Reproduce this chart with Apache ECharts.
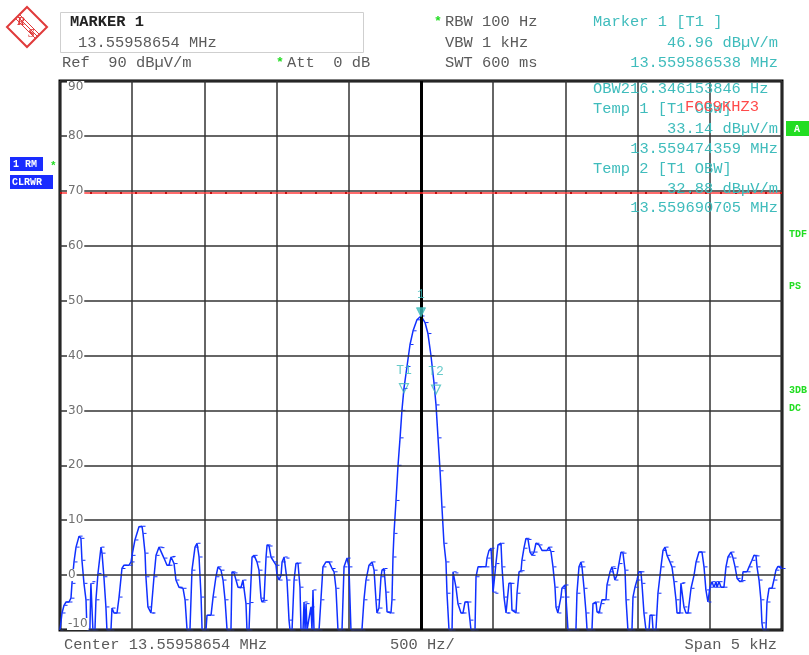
<!DOCTYPE html>
<html><head><meta charset="utf-8">
<script src="https://cdn.jsdelivr.net/npm/echarts@6/dist/echarts.min.js"></script>
<style>html,body{margin:0;padding:0;background:#fff}#c{width:809px;height:655px}</style>
</head><body><div id="c"></div>
<script>
// Trace: [frequency offset from centre in Hz, level in dBµV/m]
const traceHzDb = [[-2500,-10],[-2486,-6.9],[-2472,-5.5],[-2458,-4.9],[-2438,-4.9],[-2424,-4.2],[-2417,-1.5],[-2403,2.4],[-2389,5.1],[-2368,7.1],[-2355,6.7],[-2348,2.7],[-2334,-1.5],[-2320,-4.5],[-2313,-10],[-2293,-10],[-2286,-1.5],[-2279,-1.2],[-2272,-10],[-2258,-10],[-2251,-4.5],[-2237,0.3],[-2216,5.1],[-2209,4],[-2196,-0.3],[-2182,-5.8],[-2175,-10],[-2147,-10],[-2140,-6],[-2126,-6.9],[-2105,-6.9],[-2091,-4],[-2071,1.2],[-2057,1.8],[-2022,1.8],[-2008,2.4],[-2001,3.6],[-1981,6.4],[-1953,8.8],[-1932,8.9],[-1925,7.6],[-1911,4],[-1905,-0.3],[-1891,-5.8],[-1870,-6.9],[-1863,-6.9],[-1849,-0.3],[-1835,3.6],[-1814,5.1],[-1801,5.0],[-1780,3.1],[-1759,1.8],[-1745,1.8],[-1731,3.3],[-1724,3.4],[-1710,2.1],[-1697,-0.9],[-1676,-2.2],[-1648,-2.4],[-1634,-4.5],[-1620,-10],[-1600,-10],[-1586,0.9],[-1565,5.1],[-1551,5.8],[-1537,3.3],[-1523,-4],[-1516,-10],[-1489,-10],[-1482,-7.3],[-1454,-7.3],[-1440,-4],[-1420,-0.3],[-1406,1.5],[-1385,0.9],[-1371,-0.9],[-1357,-4.5],[-1343,-10],[-1316,-10],[-1309,0.6],[-1295,0.4],[-1281,-0.9],[-1267,-2.2],[-1247,-2.3],[-1233,-0.9],[-1212,-5.2],[-1205,-10],[-1191,-10],[-1184,-5],[-1170,3.3],[-1156,3.6],[-1136,2.4],[-1122,0.9],[-1108,-4.2],[-1101,-4.9],[-1087,-4.6],[-1073,3.3],[-1066,5.5],[-1052,5.3],[-1039,3.3],[-1018,2.4],[-1004,1.8],[-997,0],[-983,-0.9],[-969,0],[-962,2.4],[-948,3.3],[-935,3.1],[-928,-0.9],[-914,-8.2],[-907,-10],[-893,-10],[-879,-0.9],[-866,2.1],[-852,2.2],[-838,-2.2],[-831,-10],[-817,-10],[-810,-4.9],[-803,-10],[-796,-5.2],[-789,-10],[-776,-10],[-762,-5.8],[-755,-10],[-748,-2.7],[-741,-10],[-706,-10],[-693,-4.5],[-679,1.5],[-658,2.4],[-637,2.4],[-616,1.2],[-602,0.6],[-589,-2.4],[-575,-10],[-547,-10],[-533,1.5],[-512,3.1],[-499,1.5],[-485,-10],[-409,-10],[-395,-4.5],[-381,-0.9],[-360,1.8],[-339,2.4],[-325,0.9],[-312,-4.5],[-305,-6.9],[-291,-6.0],[-277,-0.3],[-270,0.9],[-256,1.2],[-243,-3.1],[-235,-6.7],[-208,-6.9],[-201,-4.5],[-194,3.3],[-187,7.6],[-173,13.6],[-159,20],[-145,25],[-132,30],[-118,34],[-97,38],[-76,42],[-55,44.5],[-28,46.5],[0,47.2],[28,46],[48,44],[69,40],[90,35],[104,31],[118,25],[132,19],[145,12.4],[159,5.8],[173,2.4],[180,-3.3],[194,-10],[215,-10],[222,0.6],[235,0.4],[242,-2.2],[256,-5.2],[277,-6.9],[291,-6.9],[305,-4.9],[325,-4.9],[339,-8.2],[346,-10],[374,-10],[381,-0.3],[395,1.5],[450,1.5],[457,3.1],[471,4.5],[485,4.9],[492,1.5],[499,-3.1],[512,-3.3],[519,2.1],[533,5.5],[554,5.8],[561,1.5],[575,-4],[589,-6.9],[596,-6.9],[609,-1.5],[623,-1.5],[630,-6.4],[658,-6.9],[665,-3.3],[679,0.6],[693,0.8],[699,2.7],[713,4.9],[727,6.7],[741,6.5],[755,4.2],[769,3.6],[783,4.2],[796,5.8],[817,5.5],[838,4.5],[873,4.5],[886,5.1],[900,4.3],[914,1.5],[928,-2.2],[935,-5.8],[948,-6.9],[969,-4],[976,-2.4],[997,-1.8],[1004,-4],[1018,-10],[1073,-10],[1080,-3.3],[1094,1.5],[1108,2.4],[1115,1.5],[1129,-2.4],[1143,-6.9],[1150,-10],[1184,-10],[1191,-5.2],[1212,-4.9],[1219,-6.7],[1233,-6.9],[1247,-5.2],[1253,-4.5],[1281,-4.5],[1288,-1.8],[1309,0.6],[1323,1.5],[1329,1.2],[1343,-0.9],[1357,0],[1371,2.1],[1385,4.2],[1399,4.0],[1413,0.9],[1420,-4.5],[1433,-10],[1461,-10],[1468,-4],[1482,-2.2],[1496,-0.9],[1509,0.6],[1523,0.6],[1530,-1.5],[1544,-6.9],[1558,-10],[1579,-10],[1586,-7.3],[1600,-7.3],[1607,-10],[1627,-10],[1641,-3.3],[1662,1.5],[1676,4.5],[1690,5.1],[1704,3.6],[1724,2.4],[1738,1.5],[1752,-1.2],[1766,-4.5],[1773,-6.9],[1793,-6.9],[1800,-1.5],[1807,-1.4],[1821,-5.8],[1835,-6.9],[1849,-6.9],[1870,-2.4],[1891,0],[1905,2.4],[1925,4.2],[1946,4.2],[1960,1.5],[1973,-2.7],[1987,-4.9],[2001,-2.2],[2015,-1.2],[2029,-2.2],[2043,-1.2],[2050,-2.2],[2064,-1.2],[2078,-2.2],[2098,-2.2],[2112,1.5],[2126,3.3],[2147,4.2],[2161,3.1],[2175,1.5],[2189,-0.6],[2209,-1.2],[2223,-1.0],[2230,0.6],[2258,0.6],[2272,1.5],[2292,2.7],[2306,3.6],[2320,3.5],[2327,1.5],[2341,-0.9],[2354,-4.5],[2361,-8.7],[2368,-10],[2389,-10],[2396,-4.9],[2410,-2.4],[2431,-2.4],[2444,-0.9],[2458,0.9],[2472,1.6],[2500,1.2]];

const markerNames = ['1', 'T1', 'T2'];
const markerFreqHz = [0, -118, 104];
const markerLevel = [46.96, 33.14, 32.88];
const limitLevel = 69.6;
const limitName = 'FCC9KHZ3';

const spanHz = [-2500, 2500];
const divHz = 500;
const levelRange = [-10, 90];
const levelDiv = 10;

const headerLeft = ['MARKER 1', '13.55958654 MHz'];
const headerMid = ['RBW 100 Hz', 'VBW 1 kHz', 'SWT 600 ms'];
const headerRight = ['Marker 1 [T1 ]', '46.96 dBµV/m', '13.559586538 MHz'];
const obwLines = ['OBW216.346153846 Hz', 'Temp 1 [T1 OBW]', '33.14 dBµV/m', '13.559474359 MHz', 'Temp 2 [T1 OBW]', '32.88 dBµV/m', '13.559690705 MHz'];
const footer = ['Center 13.55958654 MHz', '500 Hz/', 'Span 5 kHz'];

const MONO = '"Liberation Mono","DejaVu Sans Mono",monospace';
const TEAL = '#3fbcbc';
const GREY = '#5a5a5a';
const GREEN = '#22dd22';
const SX = 1.1;

function txt(x, y, text, fill, align, font) {
  return { type: 'text', x: x, y: y, scaleX: SX, z: 100,
    style: { text: text, x: 0, y: 0, fill: fill, align: align || 'left', verticalAlign: 'middle', font: font || ('14px ' + MONO) } };
}

const graphics = [
  // R&S logo
  { type: 'polygon', shape: { points: [[27,7],[47,27],[27,47],[7,27]] }, style: { fill: 'none', stroke: '#e03a3a', lineWidth: 2 } },
  { type: 'line', shape: { x1: 20, y1: 15, x2: 40, y2: 35 }, style: { stroke: '#e03a3a', lineWidth: 1 } },
  { type: 'line', shape: { x1: 18, y1: 17, x2: 38, y2: 37 }, style: { stroke: '#e03a3a', lineWidth: 1 } },
  { type: 'line', shape: { x1: 16, y1: 19, x2: 36, y2: 39 }, style: { stroke: '#e03a3a', lineWidth: 1 } },
  { type: 'text', x: 17, y: 16, style: { text: 'R', fill: '#e03a3a', font: 'italic bold 12px "Liberation Serif",serif' } },
  { type: 'text', x: 28, y: 28, style: { text: 'S', fill: '#e03a3a', font: 'italic bold 12px "Liberation Serif",serif' } },
  // marker box
  { type: 'rect', shape: { x: 60.5, y: 12.5, width: 303, height: 40 }, style: { fill: 'none', stroke: '#cfcfcf', lineWidth: 1 } },
  txt(70, 22, headerLeft[0], '#222', 'left', 'bold 14px ' + MONO),
  txt(78, 43, headerLeft[1], GREY),
  txt(62, 63, 'Ref  90 dBµV/m', GREY),
  txt(276, 63, '*', GREEN, 'left', 'bold 12px ' + MONO),
  txt(287, 63, 'Att  0 dB', GREY),
  txt(434, 22, '*', GREEN, 'left', 'bold 12px ' + MONO),
  txt(445, 22, headerMid[0], GREY),
  txt(445, 43, headerMid[1], GREY),
  txt(445, 63, headerMid[2], GREY),
  txt(593, 22, headerRight[0], TEAL),
  txt(778, 43, headerRight[1], TEAL, 'right'),
  txt(778, 63, headerRight[2], TEAL, 'right'),
  txt(593, 89, obwLines[0], TEAL),
  txt(593, 109, obwLines[1], TEAL),
  txt(778, 129, obwLines[2], TEAL, 'right'),
  txt(778, 149, obwLines[3], TEAL, 'right'),
  txt(593, 169, obwLines[4], TEAL),
  txt(778, 189, obwLines[5], TEAL, 'right'),
  txt(778, 208, obwLines[6], TEAL, 'right'),
  txt(685, 107, limitName, '#ff4a4a'),
  txt(64, 645, footer[0], GREY),
  txt(390, 645, footer[1], GREY),
  txt(777, 645, footer[2], GREY, 'right'),
  // left trace boxes
  { type: 'rect', shape: { x: 10, y: 157, width: 33, height: 14 }, style: { fill: '#1a2cff' } },
  { type: 'text', x: 13, y: 164, style: { text: '1 RM', fill: '#fff', verticalAlign: 'middle', font: 'bold 10px ' + MONO } },
  { type: 'text', x: 50, y: 166, style: { text: '*', fill: GREEN, verticalAlign: 'middle', font: 'bold 11px ' + MONO } },
  { type: 'rect', shape: { x: 10, y: 175, width: 43, height: 14 }, style: { fill: '#1a2cff' } },
  { type: 'text', x: 12, y: 182, style: { text: 'CLRWR', fill: '#fff', verticalAlign: 'middle', font: 'bold 10px ' + MONO } },
  // right status
  { type: 'rect', shape: { x: 786, y: 121, width: 23, height: 15 }, style: { fill: GREEN } },
  { type: 'text', x: 797, y: 129, style: { text: 'A', fill: '#fff', align: 'center', verticalAlign: 'middle', font: 'bold 10px ' + MONO } },
  { type: 'text', x: 789, y: 234, style: { text: 'TDF', fill: GREEN, verticalAlign: 'middle', font: 'bold 10px ' + MONO } },
  { type: 'text', x: 789, y: 286, style: { text: 'PS', fill: GREEN, verticalAlign: 'middle', font: 'bold 10px ' + MONO } },
  { type: 'text', x: 789, y: 390, style: { text: '3DB', fill: GREEN, verticalAlign: 'middle', font: 'bold 10px ' + MONO } },
  { type: 'text', x: 789, y: 408, style: { text: 'DC', fill: GREEN, verticalAlign: 'middle', font: 'bold 10px ' + MONO } }
];

const markerData = markerNames.map((n, i) => ({
  name: n, value: [markerFreqHz[i], markerLevel[i]],
  itemStyle: i === 0 ? { color: TEAL, borderColor: TEAL } : { color: 'rgba(255,255,255,0)', borderColor: TEAL, borderWidth: 1.2 }
}));

const chart = echarts.init(document.getElementById('c'), null, { renderer: 'canvas' });
chart.setOption({
  animation: false,
  backgroundColor: '#fff',
  graphic: graphics,
  grid: { left: 60, right: 27, top: 81, bottom: 25, show: true, borderColor: '#000', borderWidth: 3, backgroundColor: '#fff', z: 0 },
  xAxis: {
    type: 'value', min: spanHz[0], max: spanHz[1], interval: divHz,
    axisLine: { show: false }, axisTick: { show: false }, axisLabel: { show: false },
    splitLine: { show: true, lineStyle: { color: '#333', width: 1.5 } }
  },
  yAxis: {
    type: 'value', min: levelRange[0], max: levelRange[1], interval: levelDiv,
    axisLine: { show: false }, axisTick: { show: false },
    axisLabel: { inside: true, margin: 7, color: '#707070', fontFamily: '"DejaVu Sans",sans-serif', fontSize: 12,
      backgroundColor: '#fff', padding: [0, 1], verticalAlignMaxLabel: 'top', verticalAlignMinLabel: 'bottom' },
    splitLine: { show: true, lineStyle: { color: '#333', width: 1.5 } },
    z: 5
  },
  series: [
    {
      type: 'line', data: [], silent: true, z: 3,
      markLine: { silent: true, symbol: 'none', label: { show: false },
        data: [
          { xAxis: 0, lineStyle: { color: '#000', width: 3, type: 'solid' } },
          { yAxis: limitLevel, lineStyle: { color: '#ff3b3b', width: 1.5, type: 'solid' } },
          { yAxis: limitLevel, lineStyle: { color: '#c01010', width: 2, type: [2, 13] } }
        ] }
    },
    {
      type: 'line', data: traceHzDb, z: 4, clip: true,
      lineStyle: { color: '#1030ff', width: 1.5 },
      itemStyle: { color: '#1030ff' },
      symbol: 'rect', symbolSize: [3, 1], symbolOffset: [2, 0], showSymbol: true,
      emphasis: { disabled: true }
    },
    {
      type: 'scatter', data: markerData, z: 6,
      symbol: 'triangle', symbolRotate: 180, symbolSize: 9, symbolOffset: [0, -5],
      label: { show: true, position: 'top', distance: 6, formatter: '{b}', color: TEAL, fontFamily: MONO, fontSize: 13 }
    }
  ]
});
</script>
</body></html>
